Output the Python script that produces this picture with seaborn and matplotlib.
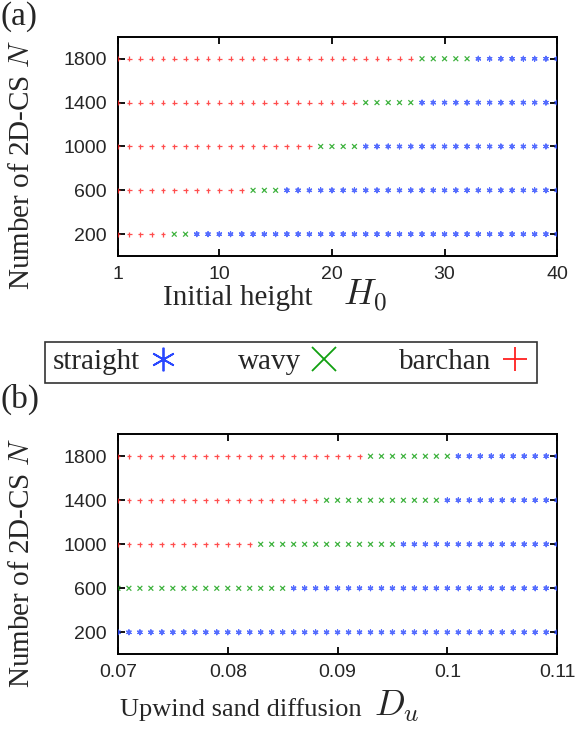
import numpy as np
import pandas as pd
import seaborn as sns
import matplotlib.pyplot as plt
from matplotlib.lines import Line2D

# rows of the phase diagrams: number of 2D-CS N
n_values = [200, 600, 1000, 1400, 1800]

# (a) initial height H0, grid of simulated values
h0_values = list(range(1, 41))
# first H0 that gives a wavy / straight dune, per row of n_values
h0_wavy_from = [6, 13, 19, 23, 28]
h0_straight_from = [8, 16, 23, 28, 33]

# (b) upwind sand diffusion Du, grid of simulated values
du_values = list(np.round(np.linspace(0.07, 0.11, 41), 3))
du_wavy_from = [0.070, 0.070, 0.083, 0.089, 0.093]
du_straight_from = [0.070, 0.086, 0.096, 0.100, 0.101]

regimes = ['barchan', 'wavy', 'straight']
colors = {'barchan': '#ff2020', 'wavy': '#10a010', 'straight': '#2a48ff'}
markers = {'barchan': '+', 'wavy': 'x', 'straight': (6, 2, 0)}


def phase_table(xs, wavy_from, straight_from):
    rows = []
    for n, w, s in zip(n_values, wavy_from, straight_from):
        for x in xs:
            if x >= s - 1e-9:
                r = 'straight'
            elif x >= w - 1e-9:
                r = 'wavy'
            else:
                r = 'barchan'
            rows.append((x, n, r))
    return pd.DataFrame(rows, columns=['x', 'N', 'regime'])


table_a = phase_table(h0_values, h0_wavy_from, h0_straight_from)
table_b = phase_table(du_values, du_wavy_from, du_straight_from)

sns.set_style('ticks')
plt.rcParams['font.family'] = ['Liberation Sans', 'DejaVu Sans']
plt.rcParams['mathtext.fontset'] = 'cm'

fig = plt.figure(figsize=(5.81, 7.36), dpi=100)
ax_a = fig.add_axes([0.203, 0.652, 0.756, 0.298])
ax_b = fig.add_axes([0.203, 0.111, 0.756, 0.299])

serif = ['Liberation Serif', 'DejaVu Serif']

for ax, table in [(ax_a, table_a), (ax_b, table_b)]:
    sns.scatterplot(
        data=table, x='x', y='N',
        hue='regime', style='regime', hue_order=regimes, style_order=regimes,
        palette=colors, markers=markers, s=12, linewidth=0.9, alpha=0.8,
        legend=False, ax=ax, zorder=3,
    )
    ax.set_ylim(0, 2000)
    ax.set_yticks(n_values)
    ax.tick_params(direction='in', top=True, right=True, length=5, width=1.3,
                   labelsize=14, color='black')
    ax.tick_params(axis='y', pad=8)
    ax.tick_params(axis='x', pad=7)
    for sp in ax.spines.values():
        sp.set_linewidth(1.4)
        sp.set_color('black')
    ax.set_xlabel('')
    ax.set_ylabel('')

ax_a.set_xlim(1, 40)
ax_a.set_xticks([1, 10, 20, 30, 40])

ax_b.set_xlim(0.07, 0.11)
ax_b.set_xticks([0.07, 0.08, 0.09, 0.1, 0.11])
ax_b.set_xticklabels(['0.07', '0.08', '0.09', '0.1', '0.11'])

# axis titles, written in pieces so the symbol can be larger than the words
W, H = 581, 736
fig.text(163 / W, 1 - 305 / H, 'Initial height', fontsize=21, family=serif, va='baseline')
fig.text(343 / W, 1 - 305 / H, '$H_0$', fontsize=26, va='baseline')
fig.text(120 / W, 1 - 716 / H, 'Upwind sand diffusion', fontsize=19, family=serif, va='baseline')
fig.text(374 / W, 1 - 716 / H, '$D_u$', fontsize=26, va='baseline')
for yc in [165, 563]:
    fig.text(22 / W, 1 - yc / H, 'Number of 2D-CS $N$', fontsize=21, family=serif,
             rotation=90, ha='center', va='center')

fig.text(0.0, 0.998, '(a)', fontsize=24, family=serif, va='top', ha='left')
fig.text(0.0, 0.478, '(b)', fontsize=24, family=serif, va='top', ha='left')

handles = [
    Line2D([], [], ls='', marker=markers[r], color=colors[r], markersize=17,
           markeredgewidth=1.3, label=r)
    for r in ['straight', 'wavy', 'barchan']
]
leg = fig.legend(handles=handles, loc='center', ncol=3, mode='expand',
                 bbox_to_anchor=(45 / W, 1 - 382 / H, 492 / W, 40 / H),
                 markerfirst=False, frameon=True, fancybox=False,
                 prop={'family': serif, 'size': 21},
                 handletextpad=0.3, borderpad=0.25, handlelength=1.0,
                 borderaxespad=0)
leg.get_frame().set_edgecolor('black')
leg.get_frame().set_linewidth(1.2)

fig.savefig('out.png', dpi=100)
